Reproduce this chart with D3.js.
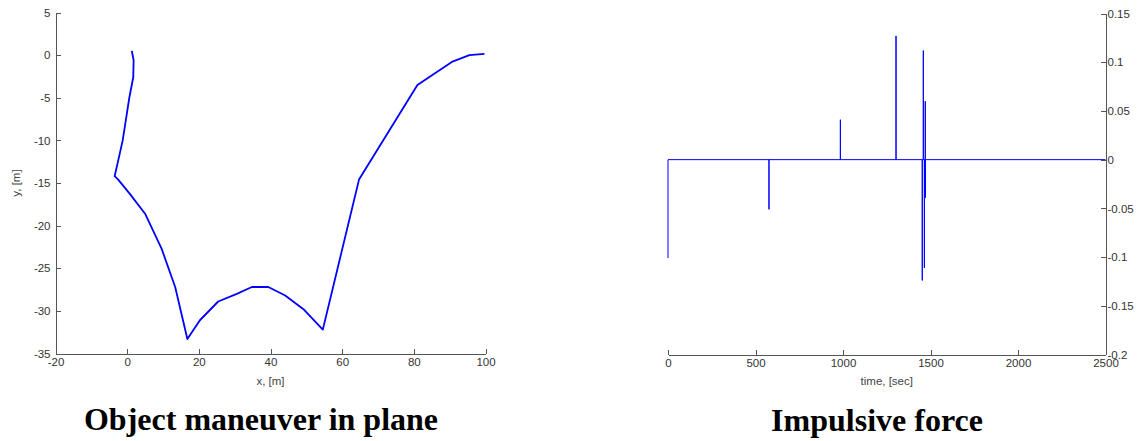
<!DOCTYPE html>
<html>
<head>
<meta charset="utf-8">
<script src="https://cdn.jsdelivr.net/npm/d3@7"></script>
<style>
  body { margin: 0; background: #fff; }
  .axis path, .axis line { stroke: #555; shape-rendering: crispEdges; }
  .axis text { fill: #333; font-family: "Liberation Sans", Arial, sans-serif; font-size: 11.5px; }
  .lbl { fill: #444; font-family: "Liberation Sans", Arial, sans-serif; font-size: 11.5px; }
  .title { font-family: "Liberation Serif", "Times New Roman", serif; font-weight: bold; font-size: 32px; fill: #000; }
</style>
</head>
<body>
<div id="chart"></div>
<script>
// Left panel: trajectory of the object, x and y in metres
var pathX = [1.3, 1.8, 1.7, 0.6, -0.1, -1.25, -2.3, -3.5, -2.5, 0.8, 5.0, 9.6, 13.4, 16.8,
             20.3, 25.4, 30.6, 34.8, 39.4, 44.1, 49.2, 54.6, 64.7, 81.0, 90.6, 95.5, 99.7];
var pathY = [0.5, -0.6, -2.6, -5.0, -6.9, -10.0, -12.0, -14.2, -14.6, -16.3, -18.6, -22.7, -27.2, -33.3,
             -31.1, -28.9, -28.0, -27.2, -27.2, -28.2, -29.8, -32.2, -14.6, -3.5, -0.8, 0.0, 0.15];
var xTicksL = [-20, 0, 20, 40, 60, 80, 100];
var yTicksL = [5, 0, -5, -10, -15, -20, -25, -30, -35];

// Right panel: impulses of force over time
var impulseT = [0, 577, 985, 1303, 1453, 1459, 1465, 1470, 1471];
var impulseF = [-0.101, -0.051, 0.041, 0.127, -0.124, 0.112, -0.111, 0.06, -0.039];
var tEnd = 2500;
var xTicksR = [0, 500, 1000, 1500, 2000, 2500];
var yTicksR = [0.15, 0.1, 0.05, 0, -0.05, -0.1, -0.15, -0.2];

var W = 1143, H = 441;
var svg = d3.select("#chart").append("svg").attr("width", W).attr("height", H);

// plain labels, hyphen as minus sign like matlab
var plain = function(d) { return String(d); };

// ---- left panel ----
var xL = d3.scaleLinear().domain([-20, 100]).range([55.5, 485.5]);
var yL = d3.scaleLinear().domain([-35, 5]).range([353.5, 12.5]);

svg.append("g").attr("class", "axis")
   .attr("transform", "translate(0," + yL(-35) + ")")
   .call(d3.axisBottom(xL).tickValues(xTicksL).tickFormat(plain).tickSizeInner(-5).tickSizeOuter(0).tickPadding(4));
svg.append("g").attr("class", "axis")
   .attr("transform", "translate(" + xL(-20) + ",0)")
   .call(d3.axisLeft(yL).tickValues(yTicksL).tickFormat(plain).tickSizeInner(-5).tickSizeOuter(0).tickPadding(5));

var lineL = d3.line().x(function(d, i) { return xL(pathX[i]); }).y(function(d) { return yL(d); });
svg.append("path")
   .attr("d", lineL(pathY))
   .attr("fill", "none")
   .attr("stroke", "#0000ff")
   .attr("stroke-width", 1.8)
   .attr("stroke-linejoin", "round");

svg.append("text").attr("class", "lbl")
   .attr("x", xL(40)).attr("y", 385).attr("text-anchor", "middle").text("x, [m]");
svg.append("text").attr("class", "lbl")
   .attr("transform", "translate(20," + yL(-15) + ") rotate(-90)")
   .attr("text-anchor", "middle").text("y, [m]");
svg.append("text").attr("class", "title")
   .attr("x", 261).attr("y", 430).attr("text-anchor", "middle").text("Object maneuver in plane");

// ---- right panel ----
var xR = d3.scaleLinear().domain([0, 2500]).range([668, 1105.5]);
var yR = d3.scaleLinear().domain([-0.2, 0.15]).range([354.5, 13.5]);

svg.append("g").attr("class", "axis")
   .attr("transform", "translate(0," + yR(-0.2) + ")")
   .call(d3.axisBottom(xR).tickValues(xTicksR).tickFormat(plain).tickSizeInner(-5).tickSizeOuter(0).tickPadding(4));
svg.append("g").attr("class", "axis")
   .attr("transform", "translate(" + xR(2500) + ",0)")
   .call(d3.axisRight(yR).tickValues(yTicksR).tickFormat(plain).tickSizeInner(-5).tickSizeOuter(0).tickPadding(2));

// build the sampled signal: zero baseline with a spike at each impulse time
var sig = [];
impulseT.forEach(function(t, i) {
  if (i > 0) sig.push([t, 0]);
  sig.push([t, impulseF[i]]);
  sig.push([t, 0]);
});
sig.push([tEnd, 0]);

var lineR = d3.line().x(function(d) { return xR(d[0]); }).y(function(d) { return yR(d[1]); });
svg.append("path")
   .attr("d", lineR(sig))
   .attr("fill", "none")
   .attr("stroke", "#0000ff")
   .attr("stroke-width", 1);

svg.append("text").attr("class", "lbl")
   .attr("x", xR(1250)).attr("y", 385).attr("text-anchor", "middle").text("time, [sec]");
svg.append("text").attr("class", "title")
   .attr("x", 877).attr("y", 431).attr("text-anchor", "middle").text("Impulsive force");
</script>
</body>
</html>
